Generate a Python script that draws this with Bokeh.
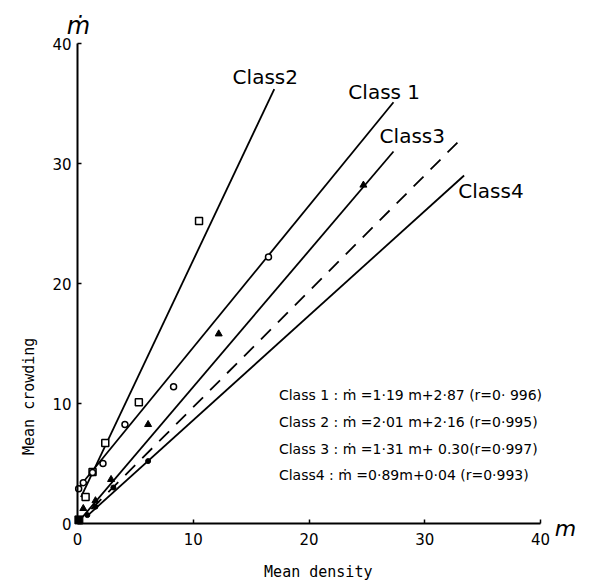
import math
from bokeh.plotting import figure
from bokeh.models import Range1d, FixedTicker, Label, LinearAxis
from bokeh.embed import file_html
from bokeh.resources import INLINE

# ---- data ----
c1_x = [0.1, 0.5, 1.3, 2.2, 4.1, 8.3, 16.5]
c1_y = [2.9, 3.4, 4.25, 5.0, 8.25, 11.4, 22.2]
c2_x = [0.7, 1.3, 2.4, 5.3, 10.5]
c2_y = [2.2, 4.3, 6.7, 10.1, 25.2]
c3_x = [0.5, 1.55, 2.9, 6.1, 12.2, 24.7]
c3_y = [1.25, 1.9, 3.67, 8.25, 15.8, 28.2]
c4_x = [0.85, 1.55, 3.1, 6.1]
c4_y = [0.7, 1.4, 3.0, 5.2]
origin_x = [0.12]
origin_y = [0.3]

# fitted lines as drawn (start, end)
line_names = ["Class 2", "Class 1", "Class 3", "1:1", "Class 4"]
line_x0 = [0.3, 0.2, 0.4, 1.2, 0.8]
line_y0 = [2.2, 3.1, 0.5, 1.2, 0.6]
line_x1 = [17.0, 27.3, 27.3, 33.4, 33.4]
line_y1 = [36.2, 35.1, 31.0, 32.3, 29.0]

x_ticks = [0, 10, 20, 30, 40]
y_ticks = [0, 10, 20, 30, 40]

class_labels = ["Class2", "Class 1", "Class3", "Class4"]
equations = [
    "Class 1 : \u1e41 =1\u00b719 m+2\u00b787 (r=0\u00b7 996)",
    "Class 2 : \u1e41 =2\u00b701 m+2\u00b716 (r=0\u00b7995)",
    "Class 3 : \u1e41 =1\u00b731 m+ 0.30(r=0\u00b7997)",
    "Class4  : \u1e41 =0\u00b789m+0\u00b704 (r=0\u00b7993)",
]

FONT = "DejaVu Sans"

# frame covers the whole figure; axes are drawn at data 0
W, H = 589, 584
PX_X, PX_Y = 11.575, 12.0      # pixels per data unit
OX, OY = 77, 523               # pixel position of data origin
x_range = Range1d(-OX / PX_X, (W - OX) / PX_X)
y_range = Range1d(-(H - OY) / PX_Y, OY / PX_Y)

p = figure(frame_width=W, frame_height=H, x_range=x_range, y_range=y_range,
           x_axis_type=None, y_axis_type=None,
           output_backend="svg", toolbar_location=None, title=None,
           min_border=0, min_border_left=0, min_border_right=0,
           min_border_top=0, min_border_bottom=0)
p.outline_line_color = None
p.background_fill_color = "white"
p.border_fill_color = "white"

xa = LinearAxis(fixed_location=0, ticker=FixedTicker(ticks=x_ticks))
ya = LinearAxis(fixed_location=0, ticker=FixedTicker(ticks=y_ticks))
for ax in (xa, ya):
    ax.bounds = (0, 40)
    ax.axis_line_width = 2
    ax.axis_line_color = "black"
    ax.major_tick_in = 4
    ax.major_tick_out = 0
    ax.major_tick_line_width = 1.5
    ax.major_tick_line_color = "black"
    ax.minor_tick_line_color = None
    ax.major_label_text_font = FONT
    ax.major_label_text_font_size = "15px"
    ax.major_label_text_color = "black"
xa.major_label_standoff = 9
ya.major_label_standoff = 6
p.add_layout(xa, "below")
p.add_layout(ya, "left")

# lines
for i, name in enumerate(line_names):
    dash = "14 10" if name == "1:1" else "solid"
    p.line([line_x0[i], line_x1[i]], [line_y0[i], line_y1[i]],
           line_color="black", line_width=1.8, line_dash=dash)

# markers
p.scatter(c2_x, c2_y, marker="square", size=7, fill_color="white",
          line_color="black", line_width=1.5)
p.scatter(c1_x, c1_y, marker="circle", size=6, fill_color="white",
          line_color="black", line_width=1.5)
p.scatter(c3_x, c3_y, marker="triangle", size=7, fill_color="black",
          line_color="black")
p.scatter(c4_x, c4_y, marker="circle", size=5, fill_color="black",
          line_color="black")
p.scatter(origin_x, origin_y, marker="square", size=8, fill_color="black",
          line_color="black")

# class labels near line ends
lab_pos = [(13.4, 37.2), (23.4, 36.0), (26.1, 32.3), (32.9, 27.7)]
for t, (lx, ly) in zip(class_labels, lab_pos):
    p.add_layout(Label(x=lx, y=ly, text=t, text_font=FONT,
                       text_font_size="20px", text_baseline="middle",
                       text_align="left", text_color="black"))

# equations
eq_y = [10.67, 8.42, 6.25, 4.08]
for t, ey in zip(equations, eq_y):
    p.add_layout(Label(x=17.4, y=ey, text=t, text_font=FONT,
                       text_font_size="14px", text_baseline="middle",
                       text_align="left", text_color="black"))

# axis symbols
p.add_layout(Label(x=0.08, y=41.5, text="\u1e41", text_font=FONT,
                   text_font_style="italic", text_font_size="24px",
                   text_align="center", text_baseline="alphabetic",
                   text_color="black"))
p.add_layout(Label(x=42.16, y=-0.42, text="m", text_font=FONT,
                   text_font_style="italic", text_font_size="22px",
                   text_align="center", text_baseline="alphabetic",
                   text_color="black"))

# axis titles
p.add_layout(Label(x=20.8, y=-4.0, text="Mean density",
                   text_font="DejaVu Sans Mono", text_font_size="15px",
                   text_align="center", text_baseline="middle",
                   text_color="black"))
p.add_layout(Label(x=-4.2, y=10.6, text="Mean crowding", angle=math.pi / 2,
                   text_font="DejaVu Sans Mono", text_font_size="15px",
                   text_align="center", text_baseline="middle",
                   text_color="black"))

open("out.html", "w").write(file_html(p, INLINE))
